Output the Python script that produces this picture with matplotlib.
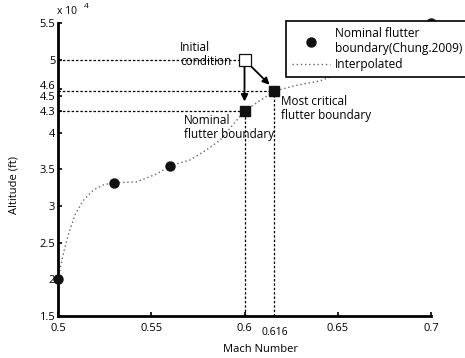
import matplotlib.pyplot as plt
from matplotlib.transforms import ScaledTranslation

plt.rcParams['font.family'] = ['Open Sans', 'DejaVu Sans']

# Nominal flutter boundary (Chung.2009), Mach / altitude in ft
mach_nom = [0.5, 0.53, 0.56, 0.7]
alt_nom = [20000, 33200, 35500, 55000]

# interpolated curve
mach_int = [0.5, 0.5029, 0.5055, 0.5091, 0.5136, 0.519, 0.5243, 0.53, 0.542, 0.553, 0.56,
            0.5708, 0.5797, 0.5869, 0.6, 0.616, 0.628, 0.6405, 0.66, 0.68, 0.7]
alt_int = [20000, 23560, 26060, 28800, 30800, 32200, 32900, 33200, 33300, 34400, 35500,
           36300, 37700, 39000, 43000, 45700, 46500, 47100, 49000, 51500, 55000]

init_pt = (0.6, 50000)
nominal_pt = (0.6, 43000)
critical_pt = (0.616, 45700)

xticks = [0.5, 0.55, 0.6, 0.65, 0.7]
yticks = [15000, 20000, 25000, 30000, 35000, 40000, 43000, 45000, 46000, 50000, 55000]
ylabels = ['1.5', '2', '2.5', '3', '3.5', '4', '4.3', '4.5', '4.6', '5', '5.5']

fig = plt.figure(figsize=(4.65, 3.58), dpi=100)
ax = fig.add_axes([0.1247, 0.1173, 0.8023, 0.8185])

# helper dotted lines
dash = (0, (2, 1.5))
ax.plot([0.5, init_pt[0]], [init_pt[1]] * 2, ls=dash, color='k', lw=0.9)
ax.plot([0.5, critical_pt[0]], [critical_pt[1]] * 2, ls=dash, color='k', lw=0.9)
ax.plot([0.5, nominal_pt[0]], [nominal_pt[1]] * 2, ls=dash, color='k', lw=0.9)
ax.plot([nominal_pt[0]] * 2, [15000, nominal_pt[1]], ls=dash, color='k', lw=0.9)
ax.plot([critical_pt[0]] * 2, [15000, critical_pt[1]], ls=dash, color='k', lw=0.9)

l2, = ax.plot(mach_int, alt_int, ls=(0, (1, 2)), color='#666666', lw=1.0, label='Interpolated')
l1, = ax.plot(mach_nom, alt_nom, 'o', color='#111111', ms=6.5, ls='none',
              label='Nominal flutter\nboundary(Chung.2009)', clip_on=False, zorder=5)

ax.plot(*nominal_pt, 's', color='#111111', ms=6.5, zorder=5)
ax.plot(*critical_pt, 's', color='#111111', ms=6.5, zorder=5)

# arrows
ax.annotate('', xy=(0.6, 43900), xytext=(0.6, 49500),
            arrowprops=dict(arrowstyle='-|>', color='k', lw=1.3, mutation_scale=10))
ax.annotate('', xy=(0.6145, 46300), xytext=(0.6015, 49600),
            arrowprops=dict(arrowstyle='-|>', color='k', lw=1.3, mutation_scale=10))
ax.plot(*init_pt, 's', mfc='white', mec='#111111', ms=8, mew=0.9, zorder=6)

ax.text(0.5655, 50700, 'Initial\ncondition', fontsize=8.5, va='center', ha='left', linespacing=1.15)
ax.text(0.5675, 40700, 'Nominal\nflutter boundary', fontsize=8.5, va='center', ha='left', linespacing=1.15)
ax.text(0.6195, 43300, 'Most critical\nflutter boundary', fontsize=8.5, va='center', ha='left', linespacing=1.15)

ax.set_xlim(0.5, 0.7)
ax.set_ylim(15000, 55000)
ax.set_xticks(xticks)
ax.set_xticklabels(['0.5', '0.55', '0.6', '0.65', '0.7'])
ax.set_yticks(yticks)
ax.set_yticklabels(ylabels)
ax.tick_params(direction='in', length=3, width=1.2, labelsize=8)
ax.tick_params(axis='x', pad=5)
ax.tick_params(axis='y', pad=2)
# 4.6 label sits a little higher in the reference
lab46 = ax.get_yticklabels()[8]
lab46.set_transform(lab46.get_transform() + ScaledTranslation(0, 2.5 / 72, fig.dpi_scale_trans))

ax.text(0.616, -0.038, '0.616', transform=ax.get_xaxis_transform(), fontsize=7.5, ha='center', va='top')
ax.text(-0.003, 1.02, 'x 10', transform=ax.transAxes, fontsize=7.5, ha='left', va='bottom')
ax.text(0.07, 1.045, '4', transform=ax.transAxes, fontsize=6, ha='left', va='bottom')

for s in ['top', 'right']:
    ax.spines[s].set_visible(False)
for s in ['left', 'bottom']:
    ax.spines[s].set_linewidth(2)

ax.set_xlabel('Mach Number', fontsize=8)
ax.xaxis.set_label_coords(0.544, -0.095)
ax.set_ylabel('Altitude (ft)', fontsize=8)
ax.yaxis.set_label_coords(-0.102, 0.447)

leg = fig.legend(handles=[l1, l2], loc='upper left', bbox_to_anchor=(0.615, 0.94),
                 fontsize=8.6, frameon=True, fancybox=False, edgecolor='k', framealpha=1,
                 handlelength=3.2, borderpad=0.5, labelspacing=0.2, handletextpad=0.4,
                 borderaxespad=0)
leg.get_frame().set_linewidth(1.2)
leg.set_zorder(10)

plt.savefig('out.png', dpi=100)
